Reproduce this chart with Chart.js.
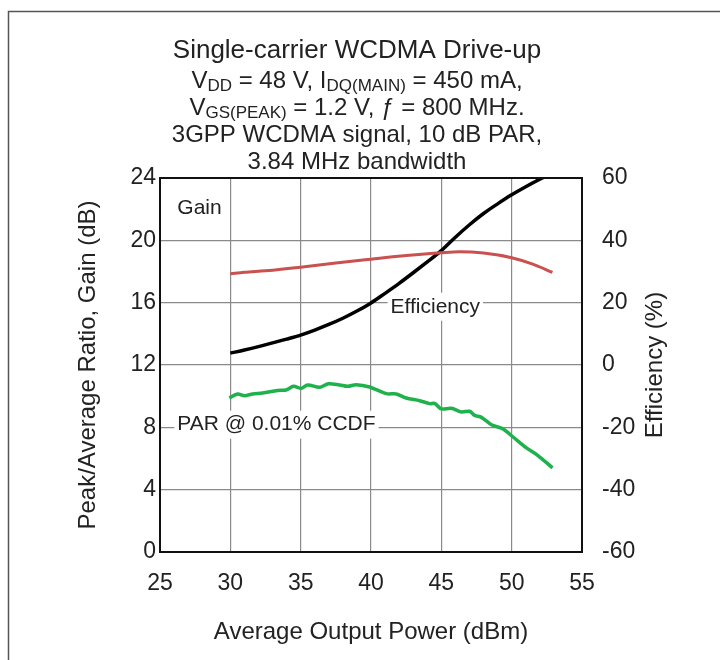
<!DOCTYPE html>
<html><head><meta charset="utf-8">
<script src="https://cdn.jsdelivr.net/npm/chart.js@4/dist/chart.umd.min.js"></script>
<style>html,body{margin:0;padding:0;background:#fff;}</style>
</head><body>
<canvas id="c" width="720" height="660"></canvas>
<script>
// ---- data ----
const xTickValues = [25, 30, 35, 40, 45, 50, 55];
const gainTickValues = [0, 4, 8, 12, 16, 20, 24];
const effTickValues = [-60, -40, -20, 0, 20, 40, 60];

const gainPower = [30, 31, 32.5, 35, 37.5, 40, 42.5, 45, 46.3, 48, 50, 51.5, 52.9];
const gainDb    = [17.85, 17.95, 18.05, 18.28, 18.55, 18.79, 19.02, 19.2, 19.26, 19.18, 18.88, 18.47, 17.94];

const effPower = [30, 31, 32, 33, 34, 35, 36, 37, 38, 39, 40, 41, 42, 43, 44, 45, 46, 47, 48, 49, 50, 51, 52, 53];
const effPct   = [3.8, 4.8, 5.9, 7.1, 8.3, 9.6, 11.2, 13.0, 15.0, 17.3, 19.9, 23.0, 26.2, 29.6, 33.1, 36.7, 41.0, 45.0, 48.6, 51.7, 54.6, 57.2, 59.6, 61.8];

const parPower = [29.93, 30.52, 31.0, 31.59, 32.3, 33.37, 33.97, 34.49, 35.04, 35.5, 36.34, 36.98, 37.77, 38.35, 38.95, 39.9, 41.09, 41.8, 42.5, 43.46, 44.17, 44.52, 45.0, 45.71, 46.42, 47.01, 47.37, 47.85, 48.56, 49.38, 50.1, 51.05, 51.87, 52.9];
const parDb    = [9.88, 10.14, 10.03, 10.14, 10.2, 10.37, 10.4, 10.63, 10.5, 10.72, 10.57, 10.8, 10.72, 10.63, 10.74, 10.59, 10.16, 10.14, 9.88, 9.71, 9.52, 9.54, 9.18, 9.22, 8.99, 9.03, 8.77, 8.64, 8.17, 7.9, 7.38, 6.68, 6.19, 5.4];

const titleLines = [
  [["Single-carrier WCDMA Drive-up", "n"]],
  [["V", "n"], ["DD", "s"], [" = 48 V, I", "n"], ["DQ(MAIN)", "s"], [" = 450 mA,", "n"]],
  [["V", "n"], ["GS(PEAK)", "s"], [" = 1.2 V, ", "n"], ["\u0192", "n"], [" = 800 MHz.", "n"]],
  [["3GPP WCDMA signal, 10 dB PAR,", "n"]],
  [["3.84 MHz bandwidth", "n"]]
];
const xTitle = "Average Output Power (dBm)";
const yLeftTitle = "Peak/Average Ratio, Gain (dB)";
const yRightTitle = "Efficiency (%)";
const inPlotLabels = [
  {text: "Gain", x: 26.23, y: 22.08, bg: false},
  {text: "Efficiency", x: 41.39, y: 15.74, bg: true},
  {text: "PAR @ 0.01% CCDF", x: 26.23, y: 8.17, bg: true}
];

const FONT = "'Liberation Sans', Arial, Helvetica, sans-serif";
const TXT = '#222';

const pts = (xs, ys) => xs.map((x, i) => ({x: x, y: ys[i]}));

const decor = {
  id: 'decor',
  beforeDatasetsDraw(chart) {
    const ctx = chart.ctx;
    const xs = chart.scales.x, ys = chart.scales.y;
    ctx.save();
    ctx.font = '21px ' + FONT;
    ctx.textBaseline = 'middle';
    ctx.textAlign = 'left';
    inPlotLabels.forEach(l => {
      const px = xs.getPixelForValue(l.x), py = ys.getPixelForValue(l.y);
      const w = ctx.measureText(l.text).width;
      if (l.bg) {
        ctx.fillStyle = '#fff';
        ctx.fillRect(px - 3, py - 14, w + 6, 28);
      }
      ctx.fillStyle = TXT;
      ctx.fillText(l.text, px, py);
    });
    ctx.restore();
  },
  afterDraw(chart) {
    const ctx = chart.ctx;
    const a = chart.chartArea;
    ctx.save();
    // plot frame
    ctx.strokeStyle = '#111';
    ctx.lineWidth = 2;
    ctx.strokeRect(a.left, a.top, a.right - a.left, a.bottom - a.top);
    // outer frame
    ctx.strokeStyle = '#555';
    ctx.lineWidth = 1.5;
    ctx.strokeRect(8.5, 11.5, 900, 900);
    // title lines
    const cx = 357;
    const baselines = [58, 88, 115, 142, 169];
    const sizes = [26, 24, 24, 24, 24];
    ctx.fillStyle = TXT;
    ctx.textBaseline = 'alphabetic';
    ctx.textAlign = 'left';
    titleLines.forEach((segs, i) => {
      const fs = sizes[i];
      const fsSub = Math.round(fs * 0.7);
      let total = 0;
      segs.forEach(s => {
        ctx.font = (s[1] === 's' ? fsSub : fs) + 'px ' + FONT;
        total += ctx.measureText(s[0]).width;
      });
      let x = cx - total / 2;
      segs.forEach(s => {
        ctx.font = (s[1] === 's' ? fsSub : fs) + 'px ' + FONT;
        ctx.fillText(s[0], x, baselines[i] + (s[1] === 's' ? 3 : 0));
        x += ctx.measureText(s[0]).width;
      });
    });
    // axis titles
    ctx.font = '24px ' + FONT;
    ctx.textAlign = 'center';
    ctx.textBaseline = 'middle';
    ctx.fillText(xTitle, (a.left + a.right) / 2, 632);
    const cy = (a.top + a.bottom) / 2;
    ctx.save();
    ctx.translate(88, cy);
    ctx.rotate(-Math.PI / 2);
    ctx.fillText(yLeftTitle, 0, 0);
    ctx.restore();
    ctx.save();
    ctx.translate(655, cy);
    ctx.rotate(-Math.PI / 2);
    ctx.fillText(yRightTitle, 0, 0);
    ctx.restore();
    ctx.restore();
  }
};

const gridColor = '#8a8a8a';

new Chart(document.getElementById('c'), {
  type: 'line',
  data: {
    datasets: [
      {label: 'Gain', data: pts(gainPower, gainDb), yAxisID: 'y', borderColor: '#c9514f', borderWidth: 3, pointRadius: 0, tension: 0.4, cubicInterpolationMode: 'monotone', fill: false},
      {label: 'Efficiency', data: pts(effPower, effPct), yAxisID: 'y2', borderColor: '#000', borderWidth: 3.5, pointRadius: 0, tension: 0.4, cubicInterpolationMode: 'monotone', fill: false},
      {label: 'PAR @ 0.01% CCDF', data: pts(parPower, parDb), yAxisID: 'y', borderColor: '#1fb14b', borderWidth: 3.5, pointRadius: 0, tension: 0.3, fill: false}
    ]
  },
  options: {
    responsive: false,
    animation: false,
    devicePixelRatio: 1,
    layout: {padding: {top: 178, left: 0, right: 0, bottom: 0}},
    plugins: {legend: {display: false}, tooltip: {enabled: false}, title: {display: false}},
    scales: {
      x: {
        type: 'linear', min: 25, max: 55,
        afterBuildTicks: s => { s.ticks = xTickValues.map(v => ({value: v})); },
        afterFit: s => { s.height = 108; },
        grid: {color: gridColor, lineWidth: 1.2, drawTicks: false},
        border: {display: false},
        ticks: {color: TXT, font: {family: FONT, size: 23}, padding: 18, maxRotation: 0}
      },
      y: {
        type: 'linear', position: 'left', min: 0, max: 24,
        afterBuildTicks: s => { s.ticks = gainTickValues.map(v => ({value: v})); },
        afterFit: s => { s.width = 160; },
        grid: {color: gridColor, lineWidth: 1.2, drawTicks: false},
        border: {display: false},
        ticks: {color: TXT, font: {family: FONT, size: 23}, padding: 4}
      },
      y2: {
        type: 'linear', position: 'right', min: -60, max: 60,
        afterBuildTicks: s => { s.ticks = effTickValues.map(v => ({value: v})); },
        afterFit: s => { s.width = 138; },
        grid: {drawOnChartArea: false, drawTicks: false},
        border: {display: false},
        ticks: {color: TXT, font: {family: FONT, size: 23}, padding: 20}
      }
    }
  },
  plugins: [decor]
});
</script>
</body></html>
